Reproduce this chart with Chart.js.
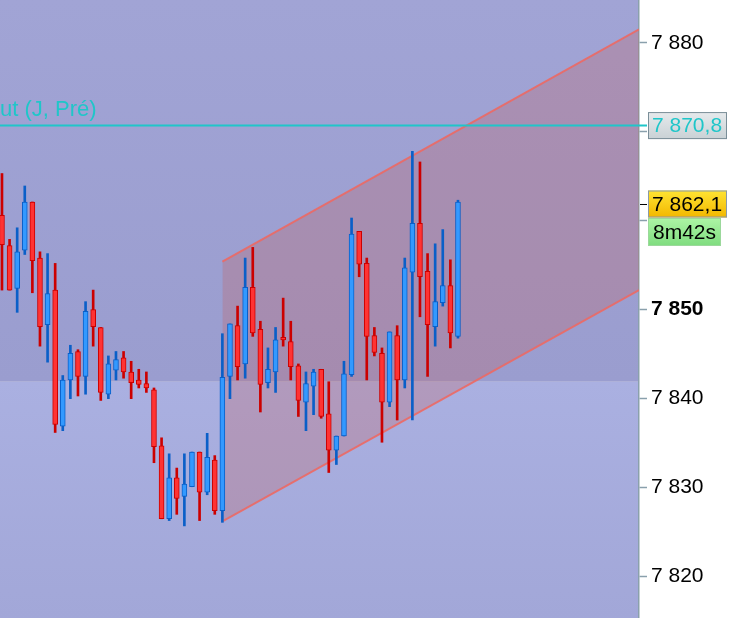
<!DOCTYPE html>
<html>
<head>
<meta charset="utf-8">
<script src="https://cdn.jsdelivr.net/npm/chart.js@4.4.1/dist/chart.umd.min.js"></script>
<style>
  html, body { margin: 0; padding: 0; background: #fff; }
  #wrap { width: 734px; height: 618px; }
</style>
</head>
<body>
<div id="wrap"><canvas id="chart" width="734" height="618"></canvas></div>
<script>
// bougies (une par période)
const openPrices  = [7860.6, 7857.2, 7852.4, 7856.7, 7862.1, 7855.8, 7848.3, 7852.2, 7836.9, 7842.1,
                     7845.3, 7842.5, 7850.0, 7848.0, 7840.5, 7843.2, 7844.6, 7843.0, 7842.1, 7841.7,
                     7841.0, 7834.7, 7826.5, 7831.1, 7829.0, 7830.1, 7834.0, 7829.5, 7833.1, 7827.4,
                     7842.5, 7848.2, 7843.9, 7852.5, 7847.8, 7841.8, 7843.0, 7846.9, 7846.4, 7843.7,
                     7839.6, 7841.4, 7843.3, 7838.3, 7834.2, 7835.8, 7842.7, 7858.8, 7855.2, 7847.1,
                     7845.1, 7839.6, 7847.1, 7842.1, 7854.2, 7859.7, 7854.3, 7848.1, 7850.8, 7852.7,
                     7847.0];
const highPrices  = [7865.3, 7857.9, 7859.2, 7863.9, 7862.1, 7856.5, 7856.3, 7855.2, 7842.6, 7846.0,
                     7845.5, 7850.9, 7852.2, 7848.0, 7844.8, 7845.3, 7845.3, 7844.2, 7843.3, 7843.0,
                     7841.2, 7835.6, 7833.8, 7832.2, 7833.8, 7834.0, 7834.0, 7836.1, 7833.6, 7847.3,
                     7848.4, 7850.4, 7855.8, 7857.0, 7848.7, 7845.7, 7848.0, 7851.3, 7848.7, 7843.9,
                     7843.0, 7843.3, 7843.3, 7841.9, 7835.8, 7844.2, 7860.3, 7858.8, 7855.8, 7848.0,
                     7845.7, 7847.5, 7848.2, 7855.8, 7867.8, 7866.6, 7856.3, 7857.4, 7859.0, 7855.6,
                     7862.3];
const lowPrices   = [7852.2, 7852.2, 7849.7, 7856.2, 7851.9, 7845.9, 7844.1, 7836.2, 7836.4, 7840.0,
                     7840.3, 7840.5, 7845.9, 7839.8, 7840.0, 7842.1, 7842.3, 7840.0, 7841.2, 7840.7,
                     7832.8, 7826.5, 7826.3, 7827.0, 7825.7, 7830.1, 7826.3, 7829.2, 7827.0, 7826.1,
                     7840.0, 7842.1, 7842.3, 7847.0, 7838.5, 7841.2, 7840.7, 7845.9, 7842.1, 7838.0,
                     7836.4, 7838.2, 7837.8, 7831.7, 7832.6, 7835.8, 7842.5, 7853.7, 7842.1, 7844.8,
                     7835.1, 7839.1, 7837.6, 7841.2, 7837.6, 7849.2, 7842.5, 7845.9, 7850.4, 7845.7,
                     7846.8];
const closePrices = [7857.3, 7852.2, 7856.5, 7862.1, 7855.5, 7848.1, 7851.8, 7837.1, 7842.1, 7845.1,
                     7842.5, 7849.8, 7848.1, 7840.7, 7843.9, 7844.4, 7843.0, 7841.8, 7841.6, 7841.2,
                     7834.6, 7826.5, 7831.1, 7828.8, 7830.4, 7834.0, 7829.5, 7833.4, 7827.4, 7842.4,
                     7848.4, 7843.6, 7852.5, 7847.4, 7841.6, 7843.3, 7846.6, 7846.6, 7843.6, 7839.8,
                     7841.7, 7843.0, 7838.0, 7834.2, 7835.8, 7842.8, 7858.5, 7855.1, 7847.0, 7845.2,
                     7839.6, 7847.5, 7842.1, 7854.7, 7859.7, 7853.7, 7848.3, 7850.9, 7852.7, 7847.4,
                     7862.1];

// canal de tendance (début / fin en index de bougie)
const channelX     = [29, 83.82];
const channelUpper = [7855.4, 7881.5];
const channelLower = [7826.2, 7852.2];

// niveaux et étiquettes
const tickValues   = [7820, 7830, 7840, 7850, 7860, 7870, 7880];
const hiddenTicks  = [7860, 7870];
const prevDayHigh  = 7870.8;
const prevDayLabel = 'Haut (J, Pré)';
const zoneTop      = 7841.9;
const lastPrice    = 7862.1;
const countdown    = '8m42s';

const FONT = '"Liberation Sans", Arial, sans-serif';
const BLUE = '#3399ff', BLUE_DARK = '#0a5fc8';
const RED = '#ff3333', RED_DARK = '#cc0000';
const CYAN = '#1fc6c9';

const fmt = v => v.toFixed(v % 1 ? 1 : 0).replace('.', ',').replace(/\B(?=(\d{3})+(?!\d))/g, ' ');
const isUp = i => closePrices[i] >= openPrices[i];

const wicks = lowPrices.map((l, i) => ({ x: i, y: [l, highPrices[i]] }));
const bodies = openPrices.map((o, i) => ({ x: i, y: [o, closePrices[i]] }));

// fond : zone claire en bas, zone sombre au-dessus de zoneTop
const backdrop = {
    id: 'backdrop',
    beforeDraw(chart) {
        const { ctx, chartArea: a, scales: { y } } = chart;
        ctx.save();
        ctx.fillStyle = '#ffffff';
        ctx.fillRect(0, 0, chart.width, chart.height);
        const yb = y.getPixelForValue(zoneTop);
        let g = ctx.createLinearGradient(0, yb, 0, a.bottom);
        g.addColorStop(0, '#aab0e1');
        g.addColorStop(1, '#a2a7d8');
        ctx.fillStyle = g;
        ctx.fillRect(a.left, yb, a.right - a.left, a.bottom - yb);
        g = ctx.createLinearGradient(0, a.top, 0, yb);
        g.addColorStop(0, '#a1a4d5');
        g.addColorStop(1, '#9a9dcf');
        ctx.fillStyle = g;
        ctx.fillRect(a.left, a.top, a.right - a.left, yb - a.top);
        ctx.restore();
    },
    afterDatasetsDraw(chart) {
        // ligne du plus haut de la veille
        const { ctx, chartArea: a, scales: { y } } = chart;
        const py = Math.round(y.getPixelForValue(prevDayHigh)) + 0.5;
        ctx.save();
        ctx.strokeStyle = CYAN;
        ctx.lineWidth = 2;
        ctx.beginPath();
        ctx.moveTo(a.left, py);
        ctx.lineTo(a.right + 8, py);
        ctx.stroke();
        ctx.font = '22px ' + FONT;
        ctx.fillStyle = CYAN;
        ctx.textBaseline = 'alphabetic';
        ctx.fillText(prevDayLabel, a.left - ctx.measureText('Ha').width, py - 9.5);
        ctx.restore();
    },
    afterDraw(chart) {
        const { ctx, chartArea: a, scales: { y } } = chart;
        const x0 = a.right + 9;
        ctx.save();
        ctx.font = '21px ' + FONT;
        ctx.textBaseline = 'middle';

        // boîte grise : plus haut veille
        let yc = y.getPixelForValue(prevDayHigh) + 1;
        let g = ctx.createLinearGradient(0, yc - 13.5, 0, yc + 13.5);
        g.addColorStop(0, '#e6eaec');
        g.addColorStop(1, '#c9d1d5');
        ctx.fillStyle = g;
        ctx.fillRect(x0, yc - 13.5, 79, 27);
        ctx.strokeStyle = '#7a8e98';
        ctx.lineWidth = 1;
        ctx.strokeRect(x0 + 0.5, yc - 13, 78, 26);
        ctx.fillStyle = CYAN;
        ctx.fillText(fmt(prevDayHigh), x0 + 4, yc + 1);

        // trait noir + boîte jaune : dernier cours
        yc = y.getPixelForValue(lastPrice) + 2;
        ctx.strokeStyle = '#000';
        ctx.beginPath();
        ctx.moveTo(a.right + 1, yc + 0.5);
        ctx.lineTo(a.right + 8, yc + 0.5);
        ctx.stroke();
        g = ctx.createLinearGradient(0, yc - 13.5, 0, yc + 13.5);
        g.addColorStop(0, '#ffe433');
        g.addColorStop(1, '#f2b700');
        ctx.fillStyle = g;
        ctx.fillRect(x0, yc - 13.5, 79, 27);
        ctx.strokeStyle = '#8a9aa8';
        ctx.strokeRect(x0 + 0.5, yc - 13, 78, 26);
        ctx.fillStyle = '#000';
        ctx.fillText(fmt(lastPrice), x0 + 4, yc + 1);

        // compte à rebours
        const yt = yc + 14;
        g = ctx.createLinearGradient(0, yt, 0, yt + 28);
        g.addColorStop(0, '#adf5a5');
        g.addColorStop(1, '#7fdc7f');
        ctx.fillStyle = g;
        ctx.fillRect(x0, yt, 73, 28);
        ctx.strokeStyle = '#9bd89b';
        ctx.strokeRect(x0 + 0.5, yt + 0.5, 72, 27);
        ctx.fillStyle = '#000';
        ctx.fillText(countdown, x0 + 5, yt + 15);
        ctx.restore();
    }
};

const ctx = document.getElementById('chart').getContext('2d');
new Chart(ctx, {
    type: 'bar',
    data: {
        datasets: [
            {
                label: 'corps',
                data: bodies,
                barThickness: 5,
                borderWidth: 1,
                borderSkipped: false,
                grouped: false,
                backgroundColor: c => isUp(c.dataIndex) ? BLUE : RED,
                borderColor: c => isUp(c.dataIndex) ? BLUE_DARK : RED_DARK
            },
            {
                label: 'mèches',
                data: wicks,
                barThickness: 2,
                borderWidth: 0,
                grouped: false,
                backgroundColor: c => isUp(c.dataIndex) ? BLUE_DARK : RED_DARK
            },
            {
                type: 'line',
                label: 'canal haut',
                data: channelX.map((x, i) => ({ x: x, y: channelUpper[i] })),
                borderColor: 'rgba(236, 105, 100, 0.9)',
                borderWidth: 2,
                pointRadius: 0,
                fill: false
            },
            {
                type: 'line',
                label: 'canal bas',
                data: channelX.map((x, i) => ({ x: x, y: channelLower[i] })),
                borderColor: 'rgba(236, 105, 100, 0.9)',
                borderWidth: 2,
                pointRadius: 0,
                fill: '-1',
                backgroundColor: 'rgba(205, 80, 70, 0.23)'
            }
        ]
    },
    options: {
        responsive: false,
        animation: false,
        layout: { padding: 0 },
        plugins: {
            legend: { display: false },
            tooltip: { enabled: false }
        },
        scales: {
            x: {
                type: 'linear',
                display: false,
                min: -0.26,
                max: 83.82,
                offset: false
            },
            y: {
                position: 'right',
                min: 7815.35,
                max: 7884.8,
                afterBuildTicks: scale => {
                    scale.ticks = tickValues.map(v => ({ value: v }));
                },
                afterFit: scale => {
                    scale.width = 95;
                    scale.paddingTop = 0;
                    scale.paddingBottom = 0;
                },
                border: { display: true, color: '#8aa0ac', width: 1.5 },
                grid: {
                    drawOnChartArea: false,
                    drawTicks: true,
                    tickLength: 8,
                    tickColor: '#8aa0ac',
                    tickWidth: 1.5
                },
                ticks: {
                    padding: 4,
                    color: '#000',
                    font: c => ({
                        family: FONT,
                        size: 21,
                        weight: c.tick && c.tick.value === 7850 ? 'bold' : 'normal'
                    }),
                    callback: v => hiddenTicks.includes(v) ? '' : fmt(v)
                }
            }
        }
    },
    plugins: [backdrop]
});
</script>
</body>
</html>
